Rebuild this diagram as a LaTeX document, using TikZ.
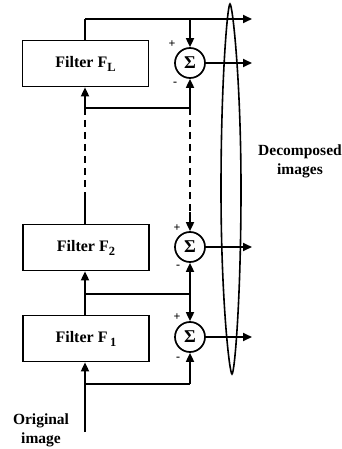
\documentclass[tikz,border=0pt]{standalone}
\usepackage{fontspec}
\setmainfont{Liberation Serif}
\usetikzlibrary{arrows.meta}
\newcommand{\lowsub}[1]{\raisebox{-4pt}{\fontsize{12.5}{12.5}\selectfont #1}}
\begin{document}
\begin{tikzpicture}[x=1pt,y=-1pt,
  line width=1.7pt,
  arr/.style={-{Triangle[length=9pt,width=8pt]}},
  filterbox/.style={draw, minimum width=126pt, minimum height=46pt, inner sep=0pt, font=\fontsize{16}{18}\selectfont\bfseries},
  sumnode/.style={draw, circle, minimum size=30pt, inner sep=0pt, font=\fontsize{18}{18}\selectfont\bfseries},
  sign/.style={font=\fontsize{12}{12}\selectfont\bfseries, inner sep=0pt},
  lbl/.style={font=\fontsize{15.5}{19}\selectfont\bfseries, inner sep=0pt, align=center}
]
\useasboundingbox (0,0) rectangle (341,449);

% filters
\node[filterbox] (fL) at (85.5,63.5) {Filter F\lowsub{L}};
\node[filterbox] (f2) at (86,247.5) {Filter F\lowsub{2}};
\node[filterbox] (f1) at (86,338.5) {Filter F\,\lowsub{1}};

% summation nodes
\node[sumnode] (sL) at (190,63) {Σ};
\node[sumnode] (s2) at (190,247) {Σ};
\node[sumnode] (s1) at (190,337) {Σ};

% signs
\node[sign] (pL) at (172,44) {+};
\node[sign] (mL) at (175,84) {-};
\node[sign] (p2) at (177,228) {+};
\node[sign] (m2) at (178,267) {-};
\node[sign] (p1) at (177,317) {+};
\node[sign] (m1) at (178,359) {-};

% grouping loop (narrow ellipse)
\coordinate (ellT) at (230,4);
\coordinate (ellL) at (221,189);
\coordinate (ellB) at (232,374);
\coordinate (ellR) at (241,189);
\draw[line width=1.6pt] (ellT) .. controls (227.5,4) and (221,80) .. (ellL)
  .. controls (221,300) and (229.5,374) .. (ellB)
  .. controls (234.5,374) and (241,300) .. (ellR)
  .. controls (241,80) and (232.5,4) .. (ellT) -- cycle;

% coordinates
\coordinate (topL) at (85,19);
\coordinate (topR) at (190,19);
\coordinate (outT) at (252,19);
\coordinate (outL) at (252,63);
\coordinate (out2) at (252,247);
\coordinate (out1) at (252,337);
\coordinate (bL) at (85,108);
\coordinate (bR) at (190,108);
\coordinate (dL) at (85,197);
\coordinate (dR) at (190,212);
\coordinate (m2L) at (85,294);
\coordinate (m2R) at (190,294);
\coordinate (b1L) at (85,384);
\coordinate (b1R) at (190,384);
\coordinate (orig) at (85,432);

% top of F_L
\draw (fL.north -| topL) -- (topL);
\draw[arr] (topL) -- (outT);
\draw[arr] (topR) -- (sL.north);
\draw[arr] (sL.east) -- (outL);

% below F_L
\draw (bL) -- (bR);
\draw[arr] (bL) -- (fL.south -| bL);
\draw[arr] (bR) -- (sL.south);

% dashed
\draw[dash pattern=on 7pt off 5pt] (bL) -- (dL);
\draw[dash pattern=on 7pt off 5pt] (bR) -- (dR);
\draw (dL) -- (f2.north -| dL);
\draw[arr] (dR) -- (s2.north);

% F2 level
\draw[arr] (s2.east) -- (out2);
\draw (m2L) -- (m2R);
\draw[arr] (f1.north -| m2L) -- (f2.south -| m2L);
\draw[arr] (m2R) -- (s2.south);
\draw[arr] (m2R) -- (s1.north);

% F1 level
\draw[arr] (s1.east) -- (out1);
\draw (b1L) -- (b1R);
\draw[arr] (orig) -- (f1.south -| orig);
\draw[arr] (b1R) -- (s1.south);

% labels
\node[lbl] (origtxt) at (41,430) {Original\\image};
\node[lbl] (dectxt) at (300,161) {Decomposed\\images};
\end{tikzpicture}
\end{document}
